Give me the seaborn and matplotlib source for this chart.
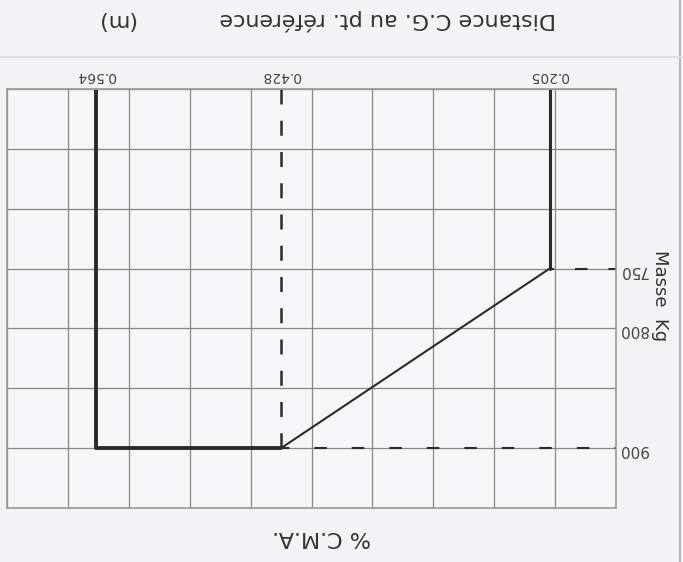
import numpy as np
import pandas as pd
import matplotlib
matplotlib.use("Agg")
import matplotlib.pyplot as plt
import seaborn as sns
from matplotlib.lines import Line2D

# valeurs (enveloppe de centrage)
env_dist = [0.205, 0.205, 0.428, 0.564, 0.564]
env_mass = [600, 750, 900, 900, 600]
dist_ticks = [0.205, 0.428, 0.564]
dist_labels = ["0.205", "0.428", "0.564"]
mass_ticks = [750, 800, 900]
mass_labels = ["750", "800", "900"]
mass_grid = [600, 650, 700, 750, 800, 850, 900, 950]

# echelle non lineaire du dessin original (distance -> carreaux)
SCALE_D = [0.0, 0.15, 0.205, 0.428, 0.564, 0.629, 1.0]
SCALE_U = [-2.97, 0.0, 1.09, 5.50, 8.54, 10.0, 18.3]
X_MIN, X_MAX = 0.15, 0.629


def forward(d):
    return np.interp(d, SCALE_D, SCALE_U)


def inverse(u):
    return np.interp(u, SCALE_U, SCALE_D)


PAGE = "#f3f2f6"
INK = "#2b2b2b"
GRID = "#868686"

sns.set_theme(style="white", rc={"figure.facecolor": PAGE, "axes.facecolor": "#f6f5f9"})
plt.rcParams["font.family"] = ["DejaVu Sans"]

fig = plt.figure(figsize=(6.83, 5.62), dpi=100)
ax = fig.add_axes([7 / 683, (562 - 508) / 562, (616 - 7) / 683, (508 - 89) / 562])
ax.set_xscale("function", functions=(forward, inverse))

df = pd.DataFrame({"dist": env_dist, "mass": env_mass})
sns.lineplot(data=df.iloc[2:], x="dist", y="mass", sort=False, estimator=None,
             color=INK, lw=2.8, ax=ax)
sns.lineplot(data=df.iloc[0:2], x="dist", y="mass", sort=False, estimator=None,
             color=INK, lw=2.2, ax=ax)
sns.lineplot(data=df.iloc[1:3], x="dist", y="mass", sort=False, estimator=None,
             color=INK, lw=1.5, ax=ax)

# lignes de rappel en tirets
ax.plot([dist_ticks[1], dist_ticks[1]], [env_mass[0], env_mass[2]],
        color=INK, lw=1.8, ls=(0, (6, 6.5)))
ax.plot([dist_ticks[1], X_MIN], [env_mass[2], env_mass[2]],
        color=INK, lw=1.5, ls=(2, (6, 12)))
ax.plot([dist_ticks[0], X_MIN], [env_mass[1], env_mass[1]],
        color=INK, lw=1.5, ls=(4, (6, 10)))

ax.set_xlim(X_MAX, X_MIN)
ax.set_ylim(mass_grid[-1], mass_grid[0])

ax.set_xticks(inverse(np.arange(11)), minor=True)
ax.set_yticks(mass_grid, minor=True)
ax.set_xticks(dist_ticks)
ax.set_xticklabels(dist_labels, rotation=180, fontsize=10, color="#444444")
ax.set_yticks(mass_ticks)
ax.set_yticklabels(mass_labels, rotation=180, color="#444444")
for lbl in ax.get_yticklabels():
    lbl.set_fontsize(9.5 if lbl.get_text() == "900" else 6.5)

ax.xaxis.tick_top()
ax.yaxis.tick_right()
ax.tick_params(which="both", length=0)
ax.tick_params(axis="x", pad=4)
ax.tick_params(axis="y", pad=2)
ax.grid(which="minor", color=GRID, lw=0.9)
ax.grid(which="major", visible=False)
ax.grid(which="major", axis="y", color=GRID, lw=0.9)
ax.set_axisbelow(True)
ax.set_xlabel("")
ax.set_ylabel("")
for s in ax.spines.values():
    s.set_color("#9a9a9a")
    s.set_linewidth(1.2)

# textes (page scannee a l'envers)
fig.text(388 / 683, 1 - 20 / 562, "Distance C.G. au pt. référence", rotation=180,
         ha="center", va="center", fontsize=16, color="#333333")
fig.text(116 / 683, 1 - 20 / 562, "(m)", rotation=180,
         ha="center", va="center", fontsize=16, color="#333333")
fig.text(322 / 683, 1 - 537 / 562, "% C.M.A.", rotation=180,
         ha="center", va="center", fontsize=16, color="#333333")
fig.text(660 / 683, 1 - 296 / 562, "Masse  Kg", rotation=270,
         ha="center", va="center", fontsize=13, color="#333333")

# bord de page et pli
fig.add_artist(Line2D([680 / 683, 680 / 683], [0, 1], transform=fig.transFigure,
                      color="#b4b4b8", lw=1.5))
fig.add_artist(Line2D([0, 1], [1 - 57 / 562, 1 - 57 / 562], transform=fig.transFigure,
                      color="#dcdce2", lw=1.5))

fig.savefig("out.png", dpi=100, facecolor=PAGE)
